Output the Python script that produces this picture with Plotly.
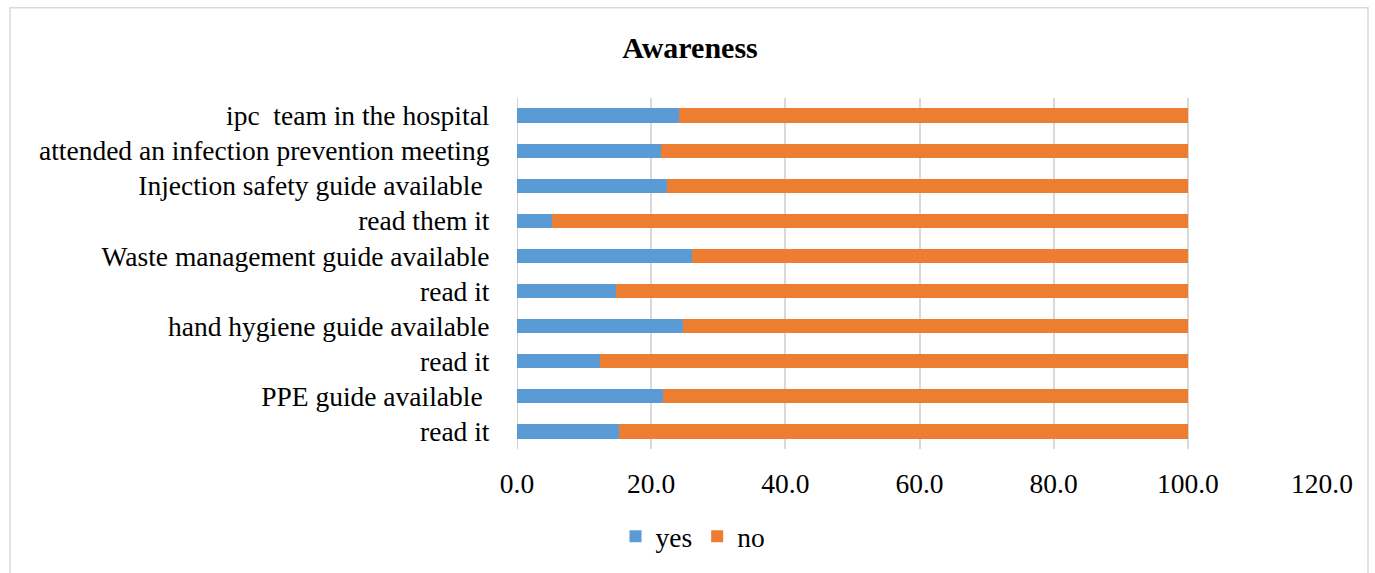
import plotly.graph_objects as go

# Survey items, bottom to top as drawn on the y axis
categories = [
    "read it",
    "PPE guide available\u00a0",
    "read it",
    "hand hygiene guide available",
    "read it",
    "Waste management guide available",
    "read them it",
    "Injection safety guide available\u00a0",
    "attended an infection prevention meeting",
    "ipc\u00a0 team in the hospital",
]
yes_pct = [15.2, 21.8, 12.3, 24.7, 14.7, 26.1, 5.2, 22.3, 21.4, 24.2]
no_pct = [round(100 - v, 1) for v in yes_pct]
x_ticks = [0, 20, 40, 60, 80, 100, 120]

positions = list(range(len(categories)))
serif = "Liberation Serif, Times New Roman, serif"
FS = 27.5

fig = go.Figure()
fig.add_trace(go.Bar(y=positions, x=yes_pct, name="yes", orientation="h",
                     marker=dict(color="#5B9BD5", line=dict(width=0))))
fig.add_trace(go.Bar(y=positions, x=no_pct, name="no", orientation="h",
                     marker=dict(color="#ED7D31", line=dict(width=0))))

W, H = 1375, 573
L, R, T, B = 517, 53, 98, 121
pw, ph = W - L - R, H - T - B

def px_x(p):
    return (p - L) / pw

def px_y(p):
    return (H - B - p) / ph

fig.update_layout(
    width=W, height=H,
    barmode="stack", bargap=0.595,
    paper_bgcolor="white", plot_bgcolor="white",
    margin=dict(l=L, r=R, t=T, b=B, pad=0),
    font=dict(family=serif, size=FS, color="#000000"),
    title=dict(text="<b>Awareness</b>", x=690 / W, xref="container", xanchor="center",
               y=1 - 47 / H, yref="container", yanchor="middle",
               font=dict(family=serif, size=30, color="#000000")),
    xaxis=dict(range=[0, 120], tickvals=x_ticks,
               ticktext=[f"{v:.1f}" for v in x_ticks],
               showgrid=True, gridcolor="#d9d9d9", gridwidth=1.5,
               zeroline=False, showline=False,
               ticks="outside", ticklen=0, ticklabelstandoff=10,
               tickfont=dict(family=serif, size=FS, color="#000000")),
    yaxis=dict(range=[-0.5, len(categories) - 0.5], tickvals=positions,
               ticktext=categories, showgrid=False, zeroline=False, showline=False,
               ticks="outside", ticklen=0, ticklabelstandoff=21,
               tickfont=dict(family=serif, size=FS, color="#000000")),
    legend=dict(orientation="h", x=px_x(693), xanchor="center",
                y=px_y(540), yanchor="middle",
                font=dict(family=serif, size=FS, color="#000000"),
                itemwidth=30, traceorder="normal"),
    shapes=[
        dict(type="rect", xref="paper", yref="paper",
             x0=px_x(10), x1=px_x(1368), y0=px_y(585), y1=px_y(7),
             line=dict(color="#d9d9d9", width=1.5), fillcolor="rgba(0,0,0,0)",
             layer="below"),
        dict(type="line", xref="x", yref="paper", x0=0, x1=0, y0=0, y1=1,
             line=dict(color="#d0d0d0", width=2), layer="below"),
    ],
)

fig.write_html("out.html")
